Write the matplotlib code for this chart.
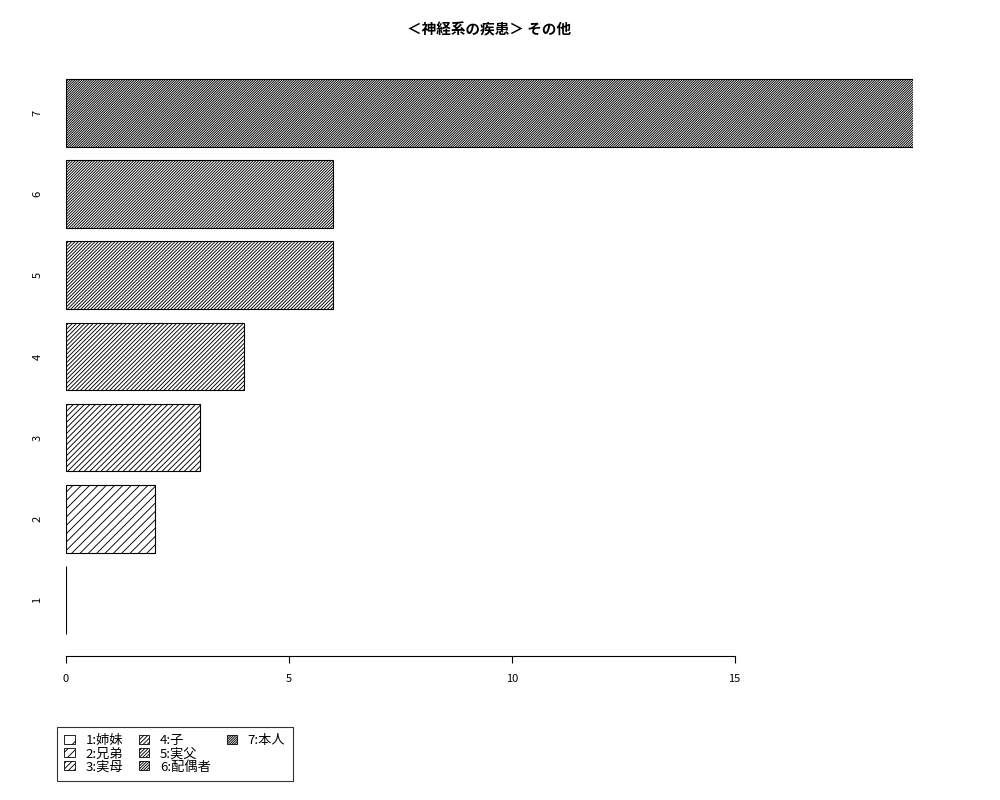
import numpy as np
import matplotlib
matplotlib.use('Agg')
import matplotlib.pyplot as plt
from matplotlib.patches import Patch

plt.rcParams['font.family'] = ['Noto Sans CJK JP', 'DejaVu Sans']
plt.rcParams['hatch.linewidth'] = 0.65
plt.rcParams['hatch.color'] = 'black'

# data
categories = ['1', '2', '3', '4', '5', '6', '7']
values = [0, 2, 3, 4, 6, 6, 19]
legend_labels = ['1:姉妹', '2:兄弟', '3:実母', '4:子', '5:実父', '6:配偶者', '7:本人']
title = '＜神経系の疾患＞ その他'
# hatch density grows with the category
hatch_counts = [2, 4, 6, 8, 10, 12, 14]
hatches = ['/' * n for n in hatch_counts]

fig = plt.figure(figsize=(10, 8), dpi=100)
ax = fig.add_axes([0.066, 0.18, 0.847, 0.749])

pos = 0.7 + 1.2 * np.arange(len(values))
bars = ax.barh(pos, values, height=1.0, color='white', edgecolor='black',
               linewidth=0.8)
for b, h in zip(bars, hatches):
    b.set_hatch(h)

ax.set_xlim(0, 19)
ax.set_ylim(0.2 - 0.328, 8.4 + 0.328)

for s in ['top', 'right', 'left']:
    ax.spines[s].set_visible(False)
ax.spines['bottom'].set_bounds(0, 15)
ax.spines['bottom'].set_linewidth(0.8)

ax.set_xticks([0, 5, 10, 15])
ax.set_xticklabels(['0', '5', '10', '15'])
ax.tick_params(axis='x', length=5, width=0.8, pad=8, labelsize=8)
ax.set_yticks(pos)
ax.set_yticklabels(categories, rotation=90, va='center')
ax.tick_params(axis='y', length=0, pad=17, labelsize=8)

fig.text(0.4895, 0.963, title, ha='center', va='center',
         fontsize=10.5, fontweight='bold')

# legend: 3 rows, columns filled 1-3, 4-6, 7 (blank fillers keep that layout)
handles = [Patch(facecolor='white', edgecolor='black', linewidth=0.6, hatch=h)
           for h in hatches]
labels = list(legend_labels)
blank = Patch(facecolor='none', edgecolor='none')
handles += [blank, blank]
labels += ['', '']

leg = fig.legend(handles=handles, labels=labels, loc='upper left',
                 bbox_to_anchor=(0.057, 0.091), ncol=3, fontsize=9.5,
                 frameon=True, fancybox=False, edgecolor='black',
                 handlelength=0.8, handleheight=0.7, handletextpad=0.8,
                 labelspacing=0.0, columnspacing=1.2, borderpad=0.55,
                 borderaxespad=0)
leg.get_frame().set_linewidth(0.8)

fig.savefig('out.png', dpi=100, facecolor='white')
